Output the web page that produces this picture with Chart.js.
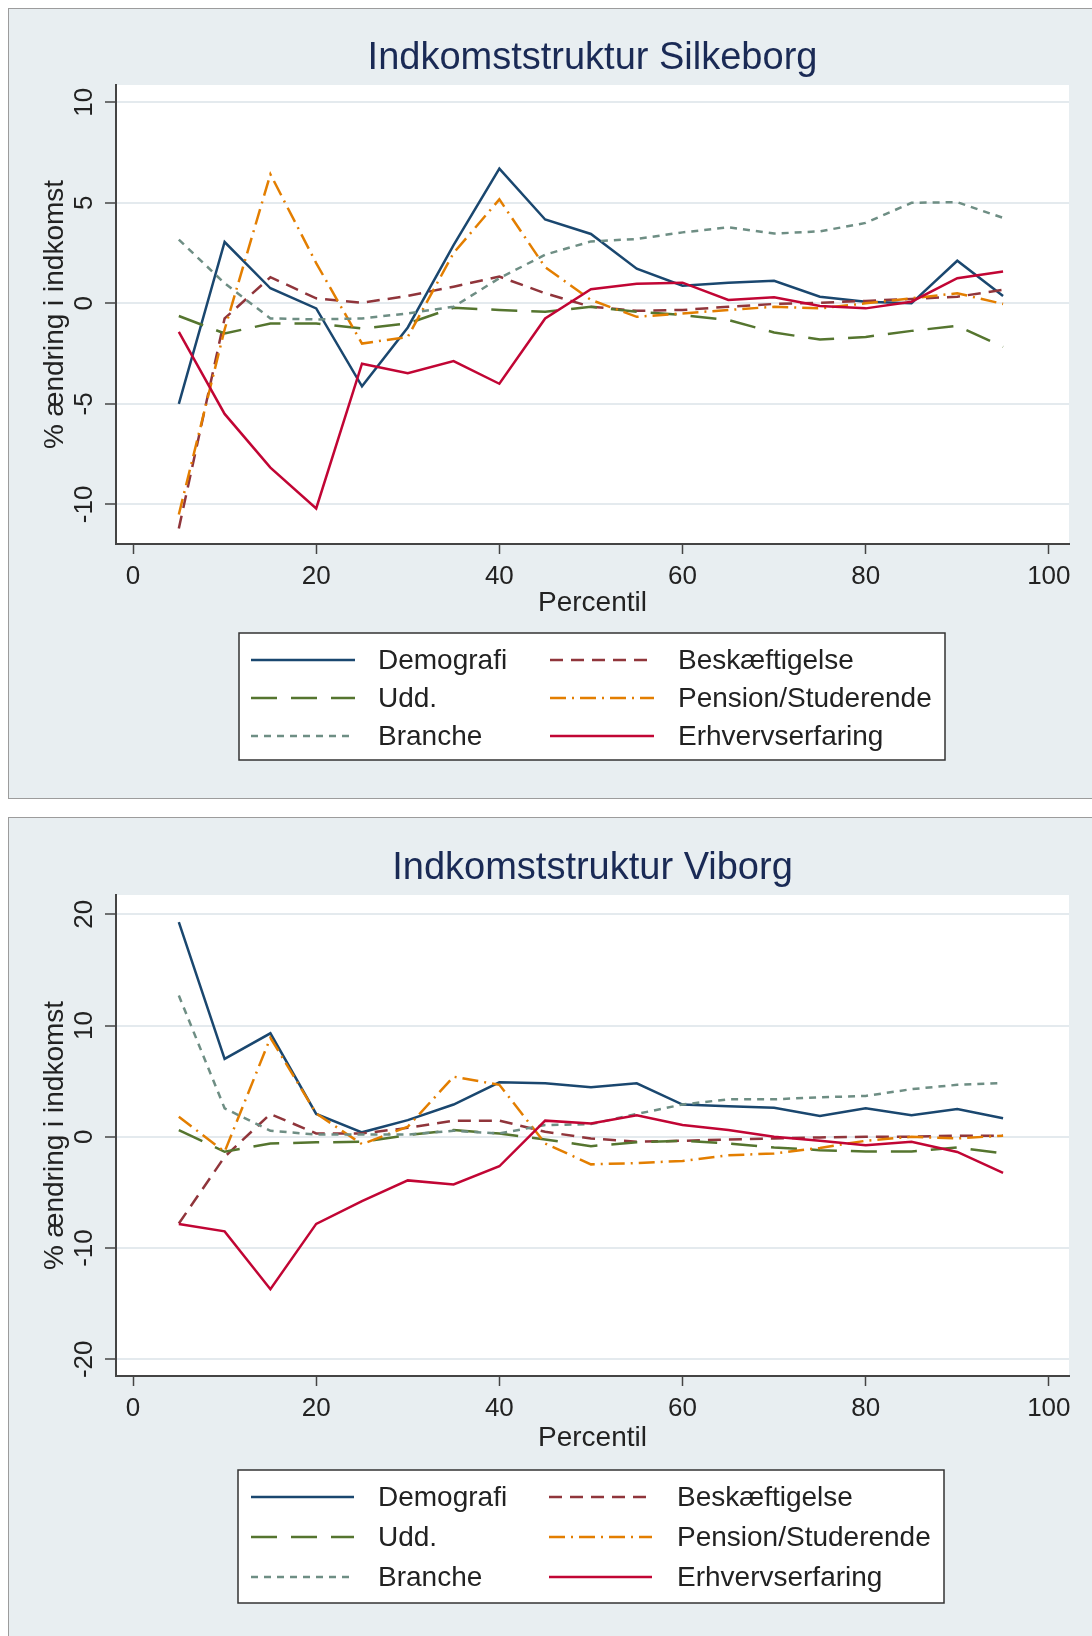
<!DOCTYPE html>
<html>
<head>
<meta charset="utf-8">
<title>Indkomststruktur</title>
<script src="https://cdn.jsdelivr.net/npm/chart.js@4.4.1/dist/chart.umd.min.js"></script>
<style>
  html, body { margin: 0; padding: 0; background: #fff; }
  body { position: relative; width: 1092px; height: 1636px; overflow: hidden; font-family: "Liberation Sans", Arial, sans-serif; }
  .panel { position: absolute; left: 8px; width: 1100px; background: #E8EEF1; border: 1px solid #9C9C9C; box-sizing: border-box; }
  canvas { position: absolute; left: 0; }
</style>
</head>
<body>
<div class="panel" style="top:8px;height:791px"></div>
<div class="panel" style="top:817px;height:840px"></div>
<canvas id="chartSilkeborg" width="1092" height="808" style="top:0"></canvas>
<canvas id="chartViborg" width="1092" height="828" style="top:808px"></canvas>

<script>
// ===== DATA =====
const percentiles = [5, 10, 15, 20, 25, 30, 35, 40, 45, 50, 55, 60, 65, 70, 75, 80, 85, 90, 95];
const seriesNames = ['Demografi', 'Beskæftigelse', 'Udd.', 'Pension/Studerende', 'Branche', 'Erhvervserfaring'];
const xTicks = [0, 20, 40, 60, 80, 100];

// Silkeborg
const silkDemografi     = [-5.0, 3.05, 0.75, -0.25, -4.13, -1.2, 2.9, 6.7, 4.17, 3.45, 1.72, 0.88, 1.03, 1.12, 0.33, 0.08, 0.0, 2.12, 0.37];
const silkBeskaeftigelse = [-11.2, -0.75, 1.3, 0.25, 0.03, 0.37, 0.83, 1.33, 0.5, -0.17, -0.37, -0.33, -0.17, -0.03, 0.03, 0.12, 0.22, 0.33, 0.67];
const silkUdd           = [-0.63, -1.5, -1.0, -1.0, -1.25, -1.0, -0.22, -0.33, -0.42, -0.17, -0.42, -0.58, -0.83, -1.45, -1.8, -1.67, -1.37, -1.12, -2.17];
const silkPension       = [-10.5, -1.3, 6.42, 2.0, -2.0, -1.67, 2.5, 5.17, 1.8, 0.17, -0.67, -0.5, -0.33, -0.17, -0.25, 0.0, 0.25, 0.5, -0.03];
const silkBranche       = [3.17, 1.0, -0.75, -0.8, -0.75, -0.5, -0.17, 1.25, 2.42, 3.08, 3.2, 3.53, 3.78, 3.47, 3.58, 4.0, 5.0, 5.03, 4.25];
const silkErhverv       = [-1.42, -5.5, -8.17, -10.2, -3.0, -3.47, -2.87, -4.0, -0.75, 0.7, 0.97, 1.03, 0.17, 0.3, -0.13, -0.25, 0.08, 1.25, 1.58];
const silkYTicks = [-10, -5, 0, 5, 10];

// Viborg
const vibDemografi      = [19.3, 7.0, 9.3, 2.05, 0.4, 1.5, 2.9, 4.9, 4.8, 4.45, 4.8, 2.9, 2.75, 2.6, 1.87, 2.56, 1.93, 2.5, 1.66];
const vibBeskaeftigelse = [-7.8, -1.8, 2.05, 0.3, 0.3, 0.8, 1.45, 1.45, 0.45, -0.15, -0.45, -0.36, -0.24, -0.15, -0.06, 0.0, 0.0, 0.1, 0.1];
const vibUdd            = [0.6, -1.35, -0.6, -0.5, -0.45, 0.15, 0.6, 0.3, -0.24, -0.84, -0.5, -0.36, -0.6, -0.96, -1.2, -1.33, -1.33, -0.96, -1.5];
const vibPension        = [1.8, -1.35, 8.9, 2.1, -0.66, 0.9, 5.4, 4.67, -0.6, -2.48, -2.36, -2.17, -1.66, -1.5, -1.0, -0.36, 0.0, -0.15, 0.1];
const vibBranche        = [12.7, 2.56, 0.54, 0.2, 0.2, 0.2, 0.54, 0.3, 1.05, 1.14, 2.05, 2.9, 3.37, 3.37, 3.55, 3.67, 4.28, 4.67, 4.82];
const vibErhverv        = [-7.83, -8.5, -13.7, -7.83, -5.78, -3.92, -4.28, -2.65, 1.45, 1.2, 1.93, 1.05, 0.6, 0.0, -0.36, -0.75, -0.45, -1.36, -3.25];
const vibYTicks = [-20, -10, 0, 10, 20];

// ===== STYLE =====
const FONT = '"Liberation Sans", Arial, sans-serif';
const TEXT = '#222222';
const AXIS = '#444444';
const lineStyles = [
  { color: '#1A476F', dash: [] },              // Demografi
  { color: '#90353B', dash: [13, 8] },         // Beskæftigelse
  { color: '#55752F', dash: [26, 14] },        // Udd.
  { color: '#E37E00', dash: [16, 6, 2, 6] },   // Pension/Studerende
  { color: '#6E8E84', dash: [7, 6] },          // Branche
  { color: '#C10534', dash: [] },              // Erhvervserfaring
];

// ===== PLOT DECORATION (plot background, title, y labels, legend box) =====
const stataDecor = {
  id: 'stataDecor',
  beforeDraw(chart) {
    const { ctx, chartArea: a } = chart;
    ctx.save();
    ctx.fillStyle = '#ffffff';
    ctx.fillRect(a.left, a.top, a.right - a.left, a.bottom - a.top);
    ctx.restore();
  },
  afterDraw(chart, args, opts) {
    const { ctx, chartArea: a, scales } = chart;
    ctx.save();

    // title over the plot region
    ctx.fillStyle = '#1A2A55';
    ctx.font = `38px ${FONT}`;
    ctx.textAlign = 'center';
    ctx.textBaseline = 'middle';
    ctx.fillText(opts.title, (a.left + a.right) / 2, opts.titleY);

    // vertical y tick labels
    ctx.fillStyle = TEXT;
    ctx.font = `26px ${FONT}`;
    scales.y.ticks.forEach(t => {
      const py = scales.y.getPixelForValue(t.value);
      ctx.save();
      ctx.translate(opts.yLabelX, py);
      ctx.rotate(-Math.PI / 2);
      ctx.fillText(String(t.value), 0, 0);
      ctx.restore();
    });

    // legend, two columns
    const lg = opts.legend;
    ctx.fillStyle = '#ffffff';
    ctx.fillRect(lg.left, lg.top, lg.width, lg.height);
    ctx.strokeStyle = '#333333';
    ctx.lineWidth = 1.5;
    ctx.strokeRect(lg.left, lg.top, lg.width, lg.height);

    ctx.textAlign = 'left';
    ctx.font = `28px ${FONT}`;
    chart.data.datasets.forEach((ds, i) => {
      const col = i % 2;
      const row = Math.floor(i / 2);
      const y = lg.rows[row];
      ctx.strokeStyle = ds.borderColor;
      ctx.lineWidth = 2.5;
      ctx.setLineDash(ds.borderDash || []);
      ctx.beginPath();
      ctx.moveTo(lg.sampleX[col], y);
      ctx.lineTo(lg.sampleX[col] + lg.sampleW, y);
      ctx.stroke();
      ctx.setLineDash([]);
      ctx.fillStyle = TEXT;
      ctx.fillText(ds.label, lg.textX[col], y + 1);
    });

    ctx.restore();
  }
};

// ===== CHART BUILDER =====
function makeChart(canvasId, cfg) {
  const canvas = document.getElementById(canvasId);
  const datasets = cfg.series.map((vals, i) => ({
    label: seriesNames[i],
    data: percentiles.map((p, j) => ({ x: p, y: vals[j] })),
    borderColor: lineStyles[i].color,
    borderDash: lineStyles[i].dash,
    borderWidth: 2.5,
    pointRadius: 0,
    tension: 0,
    fill: false,
    order: cfg.series.length - i, // later series drawn on top
  }));

  return new Chart(canvas.getContext('2d'), {
    type: 'line',
    data: { datasets },
    plugins: [stataDecor],
    options: {
      responsive: false,
      animation: false,
      events: [],
      layout: {
        padding: {
          left: 0,
          top: cfg.plotTop,
          right: canvas.width - cfg.plotRight,
          bottom: canvas.height - cfg.plotBottom - cfg.xAxisH,
        }
      },
      plugins: {
        legend: { display: false },
        tooltip: { enabled: false },
        title: { display: false },
        stataDecor: {
          title: cfg.title,
          titleY: cfg.titleY,
          yLabelX: 85,
          legend: cfg.legend,
        }
      },
      scales: {
        x: {
          type: 'linear',
          min: -1.86, max: 102.2,
          afterBuildTicks: s => { s.ticks = xTicks.map(v => ({ value: v })); },
          afterFit: s => { s.height = cfg.xAxisH; },
          ticks: { font: { family: FONT, size: 26 }, color: TEXT, padding: 7, maxRotation: 0, minRotation: 0 },
          grid: { drawOnChartArea: false, drawTicks: true, tickLength: 10, tickColor: AXIS, tickWidth: 1.5 },
          border: { color: AXIS, width: 2 },
          title: { display: true, text: 'Percentil', font: { family: FONT, size: 28 }, color: TEXT, padding: 0 },
        },
        y: {
          min: cfg.yMin, max: cfg.yMax,
          afterBuildTicks: s => { s.ticks = cfg.yTicks.map(v => ({ value: v })); },
          afterFit: s => { s.width = 116; },
          ticks: { display: false },
          grid: { color: '#E4EAEE', lineWidth: 2, drawTicks: true, tickLength: 11, tickColor: AXIS, tickWidth: 1.5 },
          border: { color: AXIS, width: 2 },
          title: { display: true, text: '% ændring i indkomst', font: { family: FONT, size: 28 }, color: TEXT, padding: { top: 38, bottom: 0 } },
        }
      }
    }
  });
}

// ===== INIT =====
makeChart('chartSilkeborg', {
  title: 'Indkomststruktur Silkeborg',
  titleY: 59,
  series: [silkDemografi, silkBeskaeftigelse, silkUdd, silkPension, silkBranche, silkErhverv],
  yMin: -11.97, yMax: 10.86, yTicks: silkYTicks,
  plotTop: 85, plotBottom: 544, plotRight: 1069, xAxisH: 76,
  legend: { left: 239, top: 633, width: 706, height: 127, rows: [660, 698, 736],
            sampleX: [251, 550], sampleW: 104, textX: [378, 678] },
});

makeChart('chartViborg', {
  title: 'Indkomststruktur Viborg',
  titleY: 61,
  series: [vibDemografi, vibBeskaeftigelse, vibUdd, vibPension, vibBranche, vibErhverv],
  yMin: -21.5, yMax: 21.73, yTicks: vibYTicks,
  plotTop: 87, plotBottom: 568, plotRight: 1069, xAxisH: 79,
  legend: { left: 238, top: 662, width: 706, height: 133, rows: [689, 729, 769],
            sampleX: [251, 549], sampleW: 103, textX: [378, 677] },
});
</script>
</body>
</html>
